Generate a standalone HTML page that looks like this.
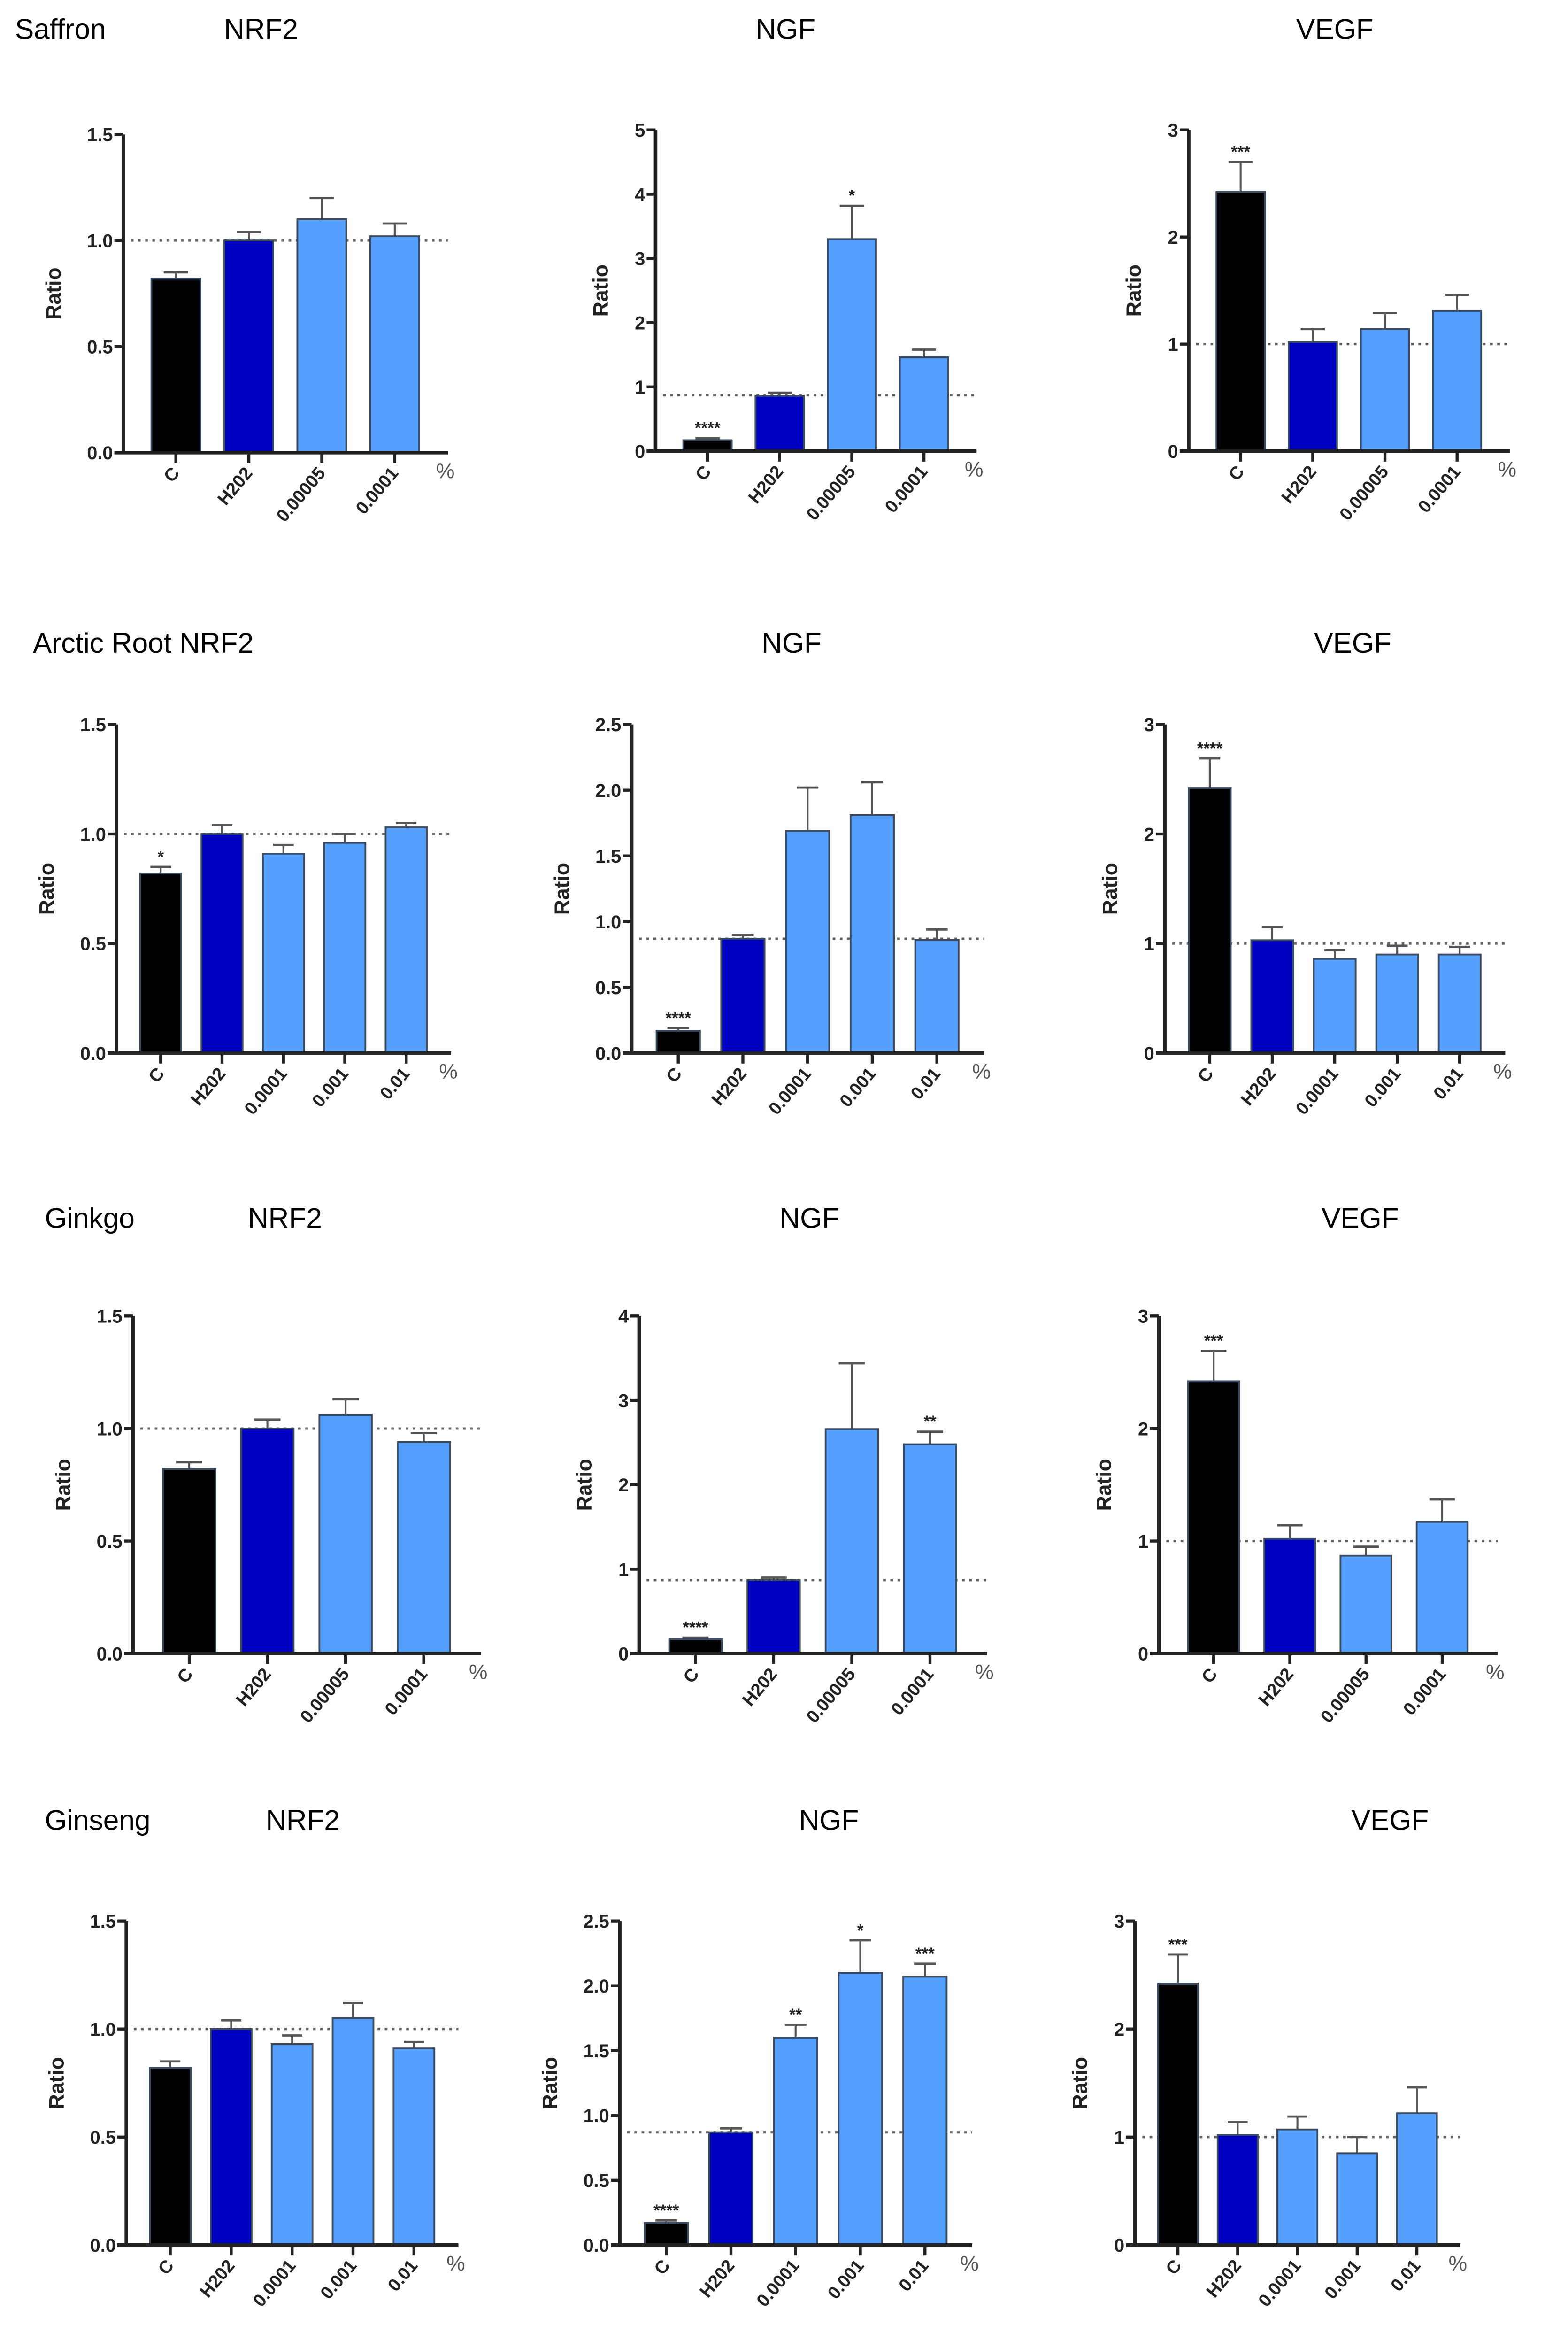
<!DOCTYPE html>
<html><head><meta charset="utf-8"><style>
html,body{margin:0;padding:0;background:#fff;width:3340px;height:5126px;overflow:hidden;}
svg{display:block;}
text{font-family:"Liberation Sans",sans-serif;}
</style></head><body>
<svg id="fig" xmlns="http://www.w3.org/2000/svg" width="3340" height="5126" viewBox="0 0 1050 1611.5">
<rect x="0" y="0" width="1050" height="1611.5" fill="#fff"/>
<g id="titles">
<text x="10" y="26" font-size="19">Saffron</text>
<text x="150" y="26" font-size="19">NRF2</text>
<text x="506" y="26" font-size="19">NGF</text>
<text x="868" y="26" font-size="19">VEGF</text>
<text x="22" y="437" font-size="19">Arctic Root  NRF2</text>
<text x="510" y="437" font-size="19">NGF</text>
<text x="880" y="437" font-size="19">VEGF</text>
<text x="30" y="822" font-size="19">Ginkgo</text>
<text x="166" y="822" font-size="19">NRF2</text>
<text x="522" y="822" font-size="19">NGF</text>
<text x="885" y="822" font-size="19">VEGF</text>
<text x="30" y="1225" font-size="19">Ginseng</text>
<text x="178" y="1225" font-size="19">NRF2</text>
<text x="535" y="1225" font-size="19">NGF</text>
<text x="905" y="1225" font-size="19">VEGF</text>
</g>
</svg>
<script>
// ---- data ----
const cats4a = ["C","H202","0.00005","0.0001"];
const cats5 = ["C","H202","0.0001","0.001","0.01"];
const ticksNRF2 = ["0.0","0.5","1.0","1.5"];
const ticksNGF5 = ["0","1","2","3","4","5"];
const ticksNGF25 = ["0.0","0.5","1.0","1.5","2.0","2.5"];
const ticksNGF4 = ["0","1","2","3","4"];
const ticksVEGF = ["0","1","2","3"];

const saffronNrf2Values = [0.82,1.0,1.10,1.02];
const saffronNrf2Errors = [0.03,0.04,0.10,0.06];
const saffronNrf2Stars = ["","","",""];
const saffronNgfValues = [0.17,0.86,3.3,1.46];
const saffronNgfErrors = [0.03,0.05,0.52,0.12];
const saffronNgfStars = ["****","","*",""];
const saffronVegfValues = [2.42,1.02,1.14,1.31];
const saffronVegfErrors = [0.28,0.12,0.15,0.15];
const saffronVegfStars = ["***","","",""];

const arcticNrf2Values = [0.82,1.0,0.91,0.96,1.03];
const arcticNrf2Errors = [0.03,0.04,0.04,0.04,0.02];
const arcticNrf2Stars = ["*","","","",""];
const arcticNgfValues = [0.17,0.87,1.69,1.81,0.86];
const arcticNgfErrors = [0.02,0.03,0.33,0.25,0.08];
const arcticNgfStars = ["****","","","",""];
const arcticVegfValues = [2.42,1.03,0.86,0.9,0.9];
const arcticVegfErrors = [0.27,0.12,0.08,0.08,0.07];
const arcticVegfStars = ["****","","","",""];

const ginkgoNrf2Values = [0.82,1.0,1.06,0.94];
const ginkgoNrf2Errors = [0.03,0.04,0.07,0.04];
const ginkgoNrf2Stars = ["","","",""];
const ginkgoNgfValues = [0.17,0.87,2.66,2.48];
const ginkgoNgfErrors = [0.02,0.03,0.78,0.15];
const ginkgoNgfStars = ["****","","","**"];
const ginkgoVegfValues = [2.42,1.02,0.87,1.17];
const ginkgoVegfErrors = [0.27,0.12,0.08,0.2];
const ginkgoVegfStars = ["***","","",""];

const ginsengNrf2Values = [0.82,1.0,0.93,1.05,0.91];
const ginsengNrf2Errors = [0.03,0.04,0.04,0.07,0.03];
const ginsengNrf2Stars = ["","","","",""];
const ginsengNgfValues = [0.17,0.87,1.6,2.1,2.07];
const ginsengNgfErrors = [0.02,0.03,0.1,0.25,0.1];
const ginsengNgfStars = ["****","","**","*","***"];
const ginsengVegfValues = [2.42,1.02,1.07,0.85,1.22];
const ginsengVegfErrors = [0.27,0.12,0.12,0.15,0.24];
const ginsengVegfStars = ["***","","","",""];

const refNRF2 = 1.0, refNGF = 0.87, refVEGF = 1.0;

// ---- layout (pixel geometry, not data) ----
const panels = [
 {id:"saffron-nrf2", ax:82.6, xEnd:300, yTop:90, yBot:303, max:1.5, ticks:ticksNRF2, cats:cats4a, v:saffronNrf2Values, e:saffronNrf2Errors, s:saffronNrf2Stars, ref:refNRF2},
 {id:"saffron-ngf", ax:439, xEnd:654, yTop:87, yBot:302, max:5, ticks:ticksNGF5, cats:cats4a, v:saffronNgfValues, e:saffronNgfErrors, s:saffronNgfStars, ref:refNGF},
 {id:"saffron-vegf", ax:796, xEnd:1011, yTop:87, yBot:302, max:3, ticks:ticksVEGF, cats:cats4a, v:saffronVegfValues, e:saffronVegfErrors, s:saffronVegfStars, ref:refVEGF},
 {id:"arctic-nrf2", ax:78, xEnd:302, yTop:485, yBot:705, max:1.5, ticks:ticksNRF2, cats:cats5, v:arcticNrf2Values, e:arcticNrf2Errors, s:arcticNrf2Stars, ref:refNRF2},
 {id:"arctic-ngf", ax:423, xEnd:659, yTop:485, yBot:705, max:2.5, ticks:ticksNGF25, cats:cats5, v:arcticNgfValues, e:arcticNgfErrors, s:arcticNgfStars, ref:refNGF},
 {id:"arctic-vegf", ax:780, xEnd:1008, yTop:485, yBot:705, max:3, ticks:ticksVEGF, cats:cats5, v:arcticVegfValues, e:arcticVegfErrors, s:arcticVegfStars, ref:refVEGF},
 {id:"ginkgo-nrf2", ax:89, xEnd:322, yTop:881, yBot:1107, max:1.5, ticks:ticksNRF2, cats:cats4a, v:ginkgoNrf2Values, e:ginkgoNrf2Errors, s:ginkgoNrf2Stars, ref:refNRF2},
 {id:"ginkgo-ngf", ax:428, xEnd:661, yTop:881, yBot:1107, max:4, ticks:ticksNGF4, cats:cats4a, v:ginkgoNgfValues, e:ginkgoNgfErrors, s:ginkgoNgfStars, ref:refNGF},
 {id:"ginkgo-vegf", ax:776, xEnd:1003, yTop:881, yBot:1107, max:3, ticks:ticksVEGF, cats:cats4a, v:ginkgoVegfValues, e:ginkgoVegfErrors, s:ginkgoVegfStars, ref:refVEGF},
 {id:"ginseng-nrf2", ax:84.6, xEnd:307, yTop:1286, yBot:1503, max:1.5, ticks:ticksNRF2, cats:cats5, v:ginsengNrf2Values, e:ginsengNrf2Errors, s:ginsengNrf2Stars, ref:refNRF2},
 {id:"ginseng-ngf", ax:415, xEnd:651, yTop:1286, yBot:1503, max:2.5, ticks:ticksNGF25, cats:cats5, v:ginsengNgfValues, e:ginsengNgfErrors, s:ginsengNgfStars, ref:refNGF},
 {id:"ginseng-vegf", ax:760, xEnd:978, yTop:1286, yBot:1503, max:3, ticks:ticksVEGF, cats:cats5, v:ginsengVegfValues, e:ginsengVegfErrors, s:ginsengVegfStars, ref:refVEGF}
];
const colors = ["#000000","#0000c0","#55a0ff"];
const NS = "http://www.w3.org/2000/svg";
const svg = document.getElementById("fig");
function mk(tag, attrs, parent){
  const el = document.createElementNS(NS, tag);
  for (const k in attrs) el.setAttribute(k, attrs[k]);
  parent.appendChild(el);
  return el;
}
panels.forEach(p => {
  const g = mk("g", {}, svg);
  
  
  const n = p.cats.length;
  const step = (p.xEnd - p.ax) / (n + 0.45);
  const bw = step * 0.67;
  const xs = i => p.ax + 0.72 * step + i * step;
  const ys = v => p.yBot - (v / p.max) * (p.yBot - p.yTop);
  const rl = mk("line", {x1:p.ax+5, x2:p.xEnd, y1:ys(p.ref), y2:ys(p.ref), stroke:"#666", "stroke-width":1.6, "stroke-dasharray":"1.8 3"}, g);
  
  
  p.v.forEach((val, i) => {
    const cx = xs(i);
    const top = ys(val);
    const eb = mk("line", {x1:cx, x2:cx, y1:top, y2:ys(val + p.e[i]), stroke:"#555", "stroke-width":1.3}, g);
    
    
    const cap = mk("line", {x1:cx-bw*0.25, x2:cx+bw*0.25, y1:ys(val + p.e[i]), y2:ys(val + p.e[i]), stroke:"#555", "stroke-width":1.5}, g);
    
    
    const r = mk("rect", {x:cx-bw/2, y:top, width:bw, height:p.yBot-top, fill:colors[Math.min(i,2)], stroke:"#3a4a60", "stroke-width":1.2}, g);
    
    
    if (p.s[i]) {
      const st = mk("text", {x:cx, y:ys(val + p.e[i]) - 3, "font-size":11, "font-weight":"bold", "text-anchor":"middle", fill:"#222"}, g);
      st.textContent = p.s[i];
      
      
    }
    const tk = mk("line", {x1:cx, x2:cx, y1:p.yBot, y2:p.yBot+7, stroke:"#222", "stroke-width":2}, g);
    
    
    const lx = cx + 3, ly = p.yBot + 14;
    const lb = mk("text", {x:lx, y:ly, "font-size":12, "font-weight":"bold", "text-anchor":"end", fill:"#222", transform:"rotate(-50 "+lx+" "+ly+")"}, g);
    lb.textContent = p.cats[i];
    
    
  });
  const ya = mk("line", {x1:p.ax, x2:p.ax, y1:p.yTop, y2:p.yBot+1, stroke:"#222", "stroke-width":2.4}, g);
  
  
  const xa = mk("line", {x1:p.ax-6, x2:p.xEnd, y1:p.yBot, y2:p.yBot, stroke:"#222", "stroke-width":2.4}, g);
  
  
  p.ticks.forEach((t, k) => {
    const val = k * p.max / (p.ticks.length - 1);
    const y = ys(val);
    const tl = mk("line", {x1:p.ax-6, x2:p.ax, y1:y, y2:y, stroke:"#222", "stroke-width":2}, g);
    
    
    const tt = mk("text", {x:p.ax-7, y:y+4.5, "font-size":12.5, "font-weight":"bold", "text-anchor":"end", fill:"#222"}, g);
    tt.textContent = t;
    
    
  });
  const yt = (p.yTop + p.yBot) / 2;
  const yl = p.ax - (p.ticks[0].length > 1 ? 42 : 32);
  const ylab = mk("text", {x:yl, y:yt, "font-size":14, "font-weight":"bold", "text-anchor":"middle", fill:"#222", transform:"rotate(-90 "+yl+" "+yt+")"}, g);
  ylab.textContent = "Ratio";
  
  
  const pc = mk("text", {x:p.xEnd-8, y:p.yBot+17, "font-size":14, fill:"#555"}, g);
  pc.textContent = "%";
  
  
});
</script>
</body></html>
